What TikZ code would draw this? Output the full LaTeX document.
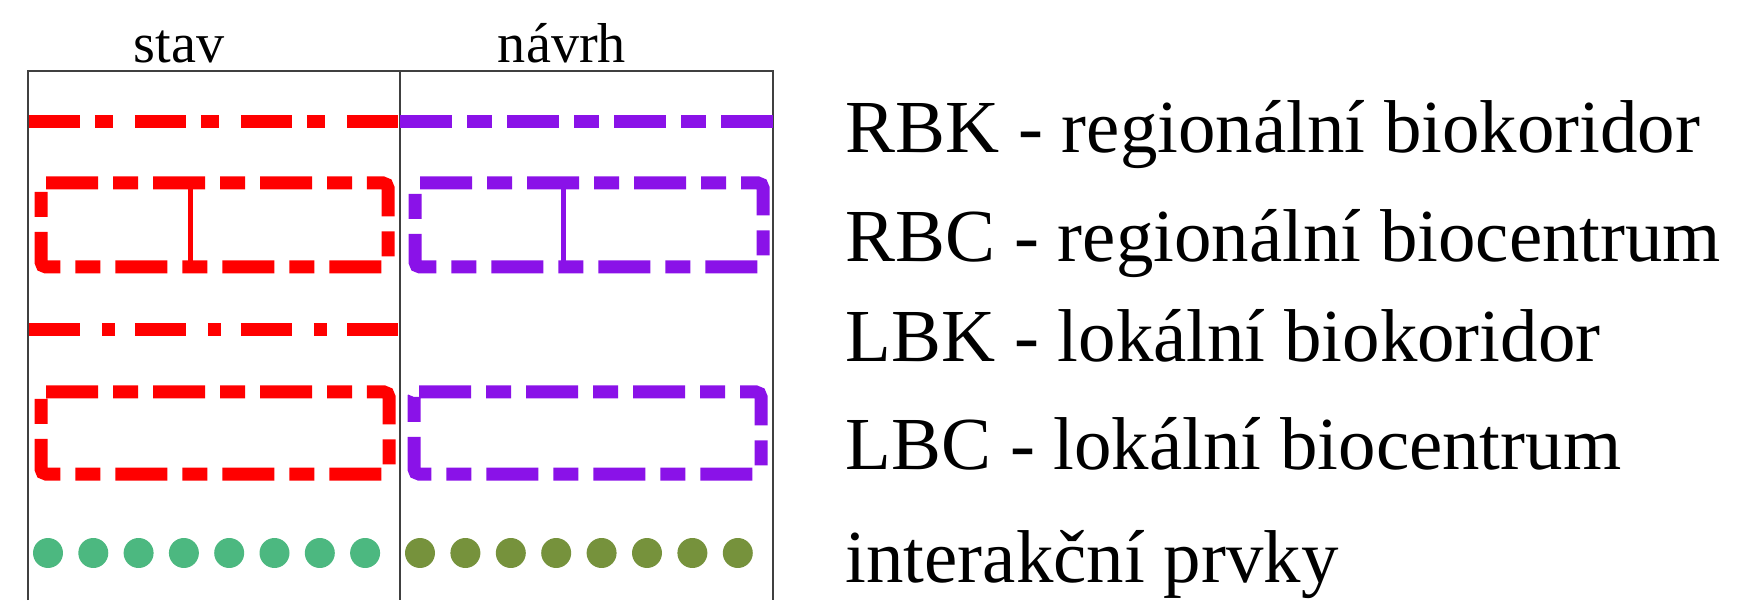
\documentclass[tikz,border=0pt]{standalone}
\usepackage{fontspec}
\setmainfont{Liberation Serif}
\usepackage{xcolor}
\usepackage{tikz}
\usetikzlibrary{positioning}
\definecolor{USESRed}{RGB}{255, 0, 0}
\definecolor{USESViolet}{RGB}{138, 18, 232}
\definecolor{USESGreen}{RGB}{76, 184, 128}
\definecolor{USESOlive}{RGB}{118, 146, 60}
\definecolor{USESFrame}{RGB}{64, 64, 64}
\tikzset{
  rbkline/.style={line width=0.13cm, dash pattern=on 0.51cm off 0.15cm on 0.18cm off 0.22cm},
  lbkline/.style={line width=0.13cm, dash pattern=on 0.51cm off 0.22cm on 0.13cm off 0.20cm},
  centrebox/.style={line width=0.13cm, rounded corners=0.05cm, dash pattern=on 0.52cm off 0.15cm on 0.25cm off 0.15cm},
  legendtext/.style={anchor=base west, inner sep=0pt, font=\fontsize{21.3}{24}\selectfont},
  headtext/.style={anchor=base, inner sep=0pt, font=\fontsize{16}{18}\selectfont}
}

\begin{document}
\begin{tikzpicture}
    \useasboundingbox (0,0) rectangle (17.54,6);
    % table frame
    \draw[USESFrame, line width=0.02cm] (0.28,0) -- (0.28,5.29) -- (7.73,5.29) -- (7.73,0);
    \draw[USESFrame, line width=0.02cm] (4.00,5.29) -- (4.00,0);
    \node[headtext] (stav) at (1.79,5.37) {stav};
    \node[headtext] (navrh) at (5.62,5.37) {návrh};

    % RBK
    \draw[USESRed, rbkline] (0.29,4.78) -- (4.00,4.78);
    \draw[USESViolet, centrebox, rounded corners=0pt] (4.00,4.78) -- (7.73,4.78);
    % RBC
    \draw[USESRed, centrebox] (0.41,4.17) -- (3.88,4.17) -- (3.88,3.33) -- (0.41,3.33) -- cycle;
    \draw[USESRed, line width=0.05cm] (1.90,4.17) -- (1.90,3.33);
    \draw[USESViolet, centrebox] (4.15,4.17) -- (7.63,4.17) -- (7.63,3.33) -- (4.15,3.33) -- cycle;
    \draw[USESViolet, line width=0.05cm] (5.63,4.17) -- (5.63,3.33);
    % LBK
    \draw[USESRed, lbkline] (0.29,2.70) -- (4.00,2.70);
    % LBC
    \draw[USESRed, centrebox] (0.41,2.08) -- (3.89,2.08) -- (3.89,1.26) -- (0.41,1.26) -- cycle;
    \draw[USESViolet, centrebox] (4.14,2.08) -- (7.61,2.08) -- (7.61,1.26) -- (4.14,1.26) -- cycle;
    % interakcni prvky
    \foreach \i in {0,...,7} {
      \fill[USESGreen] ({0.48+0.453*\i},0.47) circle (0.15);
      \fill[USESOlive] ({4.20+0.454*\i},0.47) circle (0.15);
    }

    \node[legendtext] (rbk) at (8.45,4.47) {RBK - regionální biokoridor};
    \node[legendtext] (rbc) at (8.45,3.38) {RBC - regionální biocentrum};
    \node[legendtext] (lbk) at (8.45,2.38) {LBK - lokální biokoridor};
    \node[legendtext] (lbc) at (8.45,1.30) {LBC - lokální biocentrum};
    \node[legendtext] (ip) at (8.45,0.18) {interakční prvky};
  \end{tikzpicture}
\end{document}
